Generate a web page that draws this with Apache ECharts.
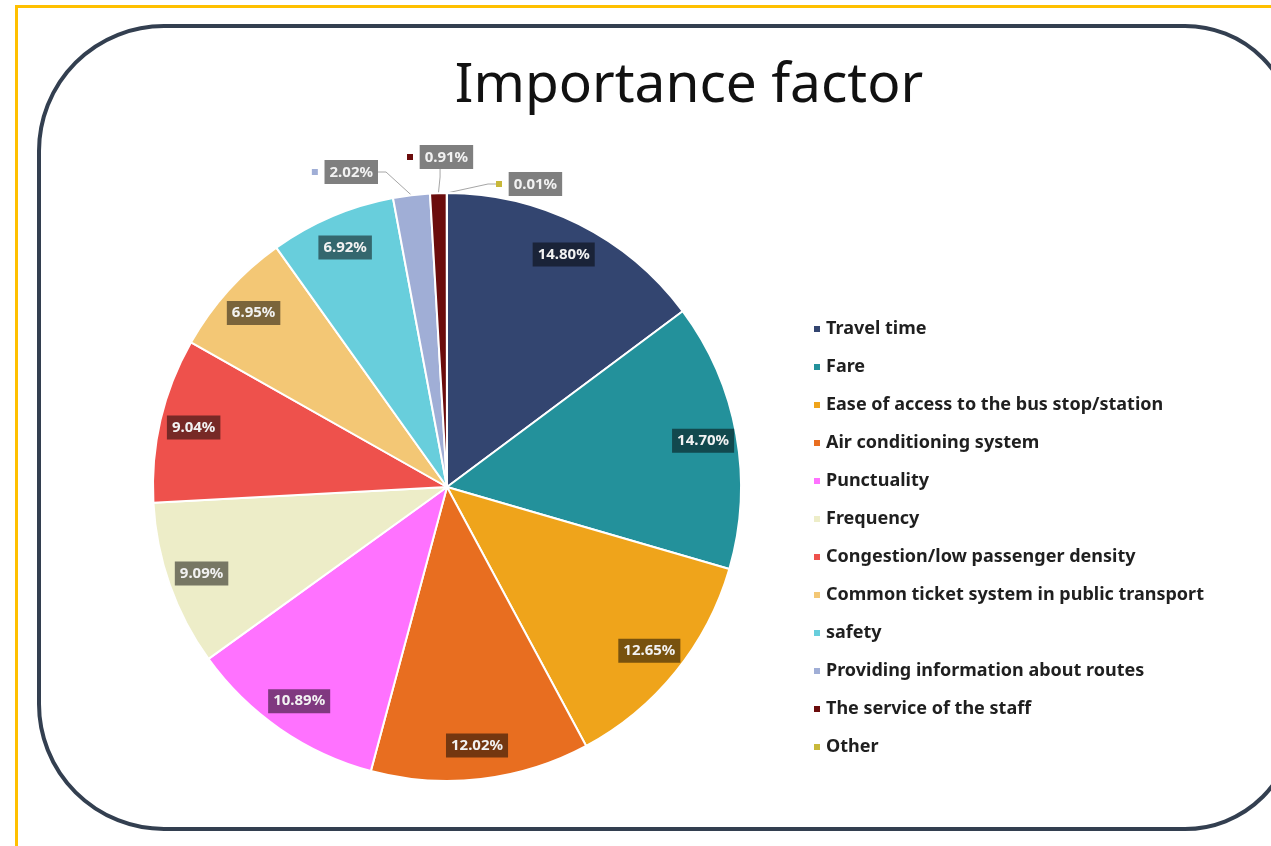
<!DOCTYPE html>
<html>
<head>
<meta charset="utf-8">
<title>Importance factor</title>
<script src="https://cdn.jsdelivr.net/npm/echarts@6/dist/echarts.min.js"></script>
<style>
  html, body { margin: 0; padding: 0; background: #fff; }
  #chart { width: 1271px; height: 846px; }
</style>
</head>
<body>
<div id="chart"></div>
<script>
// factors in legend order, slices run clockwise from 12 o'clock
var factors = [
  'Travel time',
  'Fare',
  'Ease of access to the bus stop/station',
  'Air conditioning system',
  'Punctuality',
  'Frequency',
  'Congestion/low passenger density',
  'Common ticket system in public transport',
  'safety',
  'Providing information about routes',
  'The service of the staff',
  'Other'
];
// share of respondents (%)
var shares = [14.80, 14.70, 12.65, 12.02, 10.89, 9.09, 9.04, 6.95, 6.92, 2.02, 0.91, 0.01];
var colors = [
  '#334570', '#23919b', '#efa41b', '#e86e20', '#ff72ff', '#ededc8',
  '#ee514c', '#f3c775', '#68cedc', '#a0aed6', '#6b0c0c', '#c8b83a'
];
// the thin slices get their label outside
var outsideIdx = [9, 10, 11];

var CX = 447, CY = 487, R = 294;
var FONT = '"Noto Sans", sans-serif';

// darker box behind the inside labels
function shade(hex, k) {
  var n = parseInt(hex.slice(1), 16);
  var r = Math.round(((n >> 16) & 255) * k);
  var g = Math.round(((n >> 8) & 255) * k);
  var b = Math.round((n & 255) * k);
  return 'rgb(' + r + ',' + g + ',' + b + ')';
}
function pct(v) { return v.toFixed(2) + '%'; }

// where the outside labels sit (anchor of label box)
var outsidePos = {
  9:  { x: 378, y: 172, align: 'right' },
  10: { x: 407, y: 157, align: 'left' },
  11: { x: 496, y: 184, align: 'left' }
};

var chart = echarts.init(document.getElementById('chart'));

var mainData = factors.map(function (name, i) {
  var item = { name: name, value: shares[i], itemStyle: { color: colors[i] } };
  if (outsideIdx.indexOf(i) >= 0) {
    item.label = {
      show: true,
      position: 'outside',
      formatter: '{s|}  {v|' + pct(shares[i]) + '}',
      rich: {
        s: { backgroundColor: colors[i], width: 6, height: 6 },
        v: {
          backgroundColor: '#7f7f7f', color: '#f2f2f2', fontFamily: FONT,
          fontWeight: 'bold', fontSize: 15, padding: [5, 5, 4, 5]
        }
      }
    };
    item.labelLine = { show: true, length: 12, length2: 8, lineStyle: { color: '#a6a6a6', width: 1 } };
  }
  return item;
});

var ringData = factors.map(function (name, i) {
  var inside = outsideIdx.indexOf(i) < 0;
  return {
    name: name,
    value: shares[i],
    label: {
      show: inside,
      backgroundColor: shade(colors[i], 0.5)
    }
  };
});

chart.setOption({
  backgroundColor: '#ffffff',
  animation: false,
  title: {
    text: 'Importance factor',
    left: 684,
    top: 54,
    textAlign: 'center',
    textStyle: { fontFamily: FONT, fontWeight: 'normal', fontSize: 55, color: '#111111' }
  },
  legend: {
    orient: 'vertical',
    left: 807,
    top: 315,
    icon: 'rect',
    itemWidth: 8,
    itemHeight: 8,
    itemGap: 20,
    selectedMode: false,
    data: factors,
    textStyle: { fontFamily: FONT, fontWeight: 'bold', fontSize: 18, lineHeight: 18, color: '#1f1f1f' }
  },
  graphic: [
    { type: 'rect', silent: true, shape: { x: 16, y: 5, width: 1260, height: 3 }, style: { fill: '#ffc000' } },
    { type: 'rect', silent: true, shape: { x: 15, y: 5, width: 3, height: 850 }, style: { fill: '#ffc000' } },
    {
      type: 'rect', silent: true, z: -1,
      shape: { x: 39, y: 26, width: 1256, height: 803, r: [125, 110, 110, 125] },
      style: { fill: 'none', stroke: '#333f50', lineWidth: 4 }
    }
  ],
  series: [
    {
      name: 'Importance factor',
      type: 'pie',
      center: [CX, CY],
      radius: R,
      startAngle: 90,
      clockwise: true,
      avoidLabelOverlap: false,
      itemStyle: { borderColor: '#ffffff', borderWidth: 2 },
      label: { show: false },
      labelLine: { show: false },
      labelLayout: function (p) {
        var pos = outsidePos[p.dataIndex];
        if (!pos) return {};
        return { x: pos.x, y: pos.y, align: pos.align, verticalAlign: 'middle' };
      },
      emphasis: { disabled: true },
      data: mainData
    },
    {
      name: 'labels',
      type: 'pie',
      center: [CX, CY],
      radius: [R * 0.75, R],
      startAngle: 90,
      clockwise: true,
      silent: true,
      avoidLabelOverlap: false,
      itemStyle: { color: 'transparent', borderWidth: 0 },
      label: {
        position: 'inside',
        formatter: function (p) { return pct(p.value); },
        color: '#f2f2f2',
        fontFamily: FONT,
        fontWeight: 'bold',
        fontSize: 15,
        padding: [5, 5, 4, 5]
      },
      labelLine: { show: false },
      emphasis: { disabled: true },
      data: ringData
    }
  ]
});
</script>
</body>
</html>
